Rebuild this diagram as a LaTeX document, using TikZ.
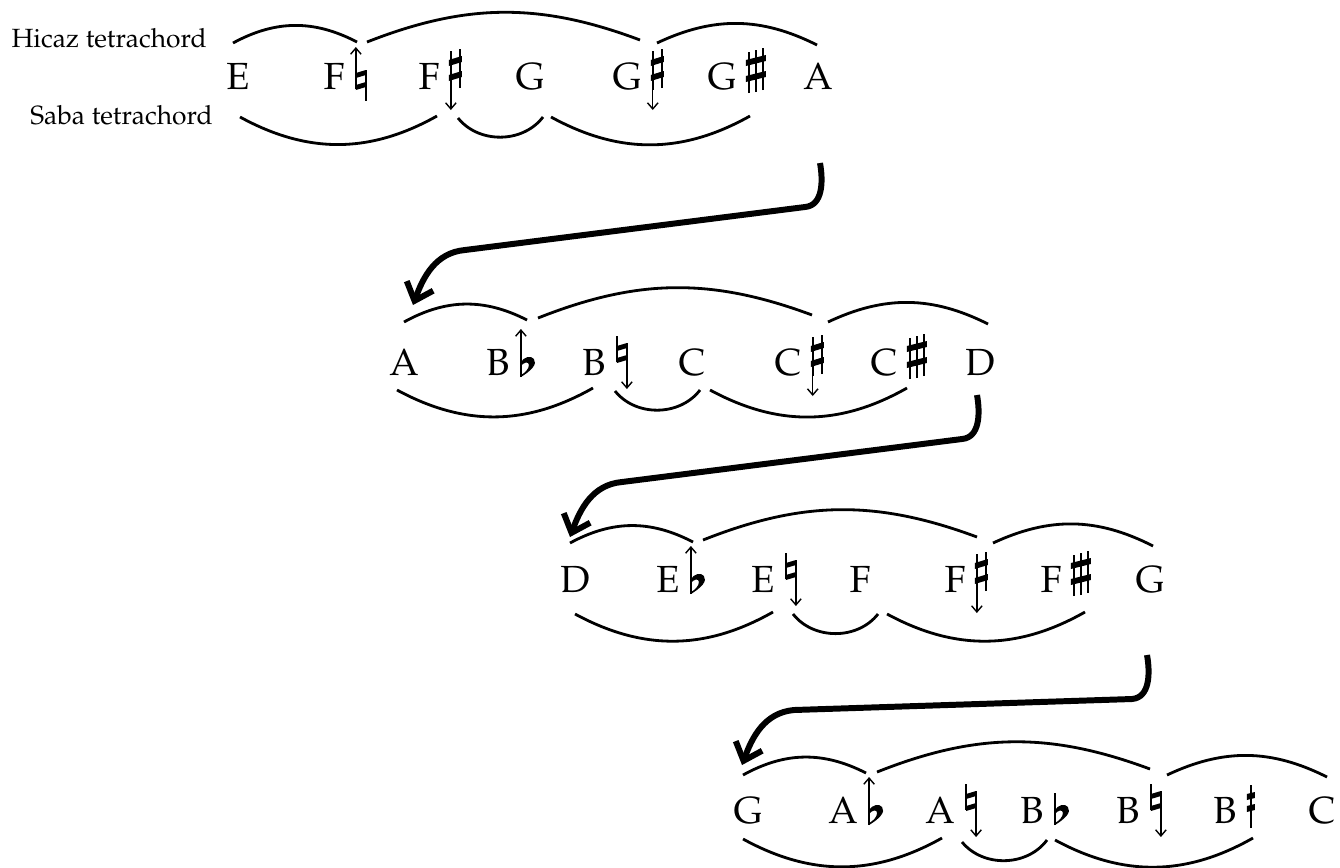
\documentclass[tikz,border=0pt]{standalone}
\usepackage[T1]{fontenc}
\usepackage{mathpazo}
\usetikzlibrary{arrows.meta,calc}

\tikzset{
  note/.style={font=\fontsize{21.5}{26}\selectfont, inner sep=0pt, anchor=base},
  tlabel/.style={font=\fontsize{15}{18}\selectfont, inner sep=0pt, anchor=base east},
  tetra/.style={line width=1.6pt},
  stem/.style={line width=0.9pt},
  accarrow/.style={line width=0.8pt, -{Straight Barb[length=3.5pt,width=6pt]}},
  shiftarrow/.style={line width=3.4pt, -{Straight Barb[length=9pt,width=16pt]}},
  % accidentals, drawn from the left stem on the baseline
  flat/.pic={
    \begin{scope}[x=0.02cm,y=0.02cm]
      \draw[stem] (0,-2) -- (0,30);
      \fill (0,-2) .. controls (10,4) and (17,11) .. (13,16)
            .. controls (10,20) and (3,18) .. (0,13) -- (0,9)
            .. controls (3,13) and (8,14) .. (8,10)
            .. controls (8,6) and (4,2) .. (0,0) -- cycle;
    \end{scope}},
  natural/.pic={
    \begin{scope}[x=0.02cm,y=0.02cm]
      \draw[stem] (0,0) -- (0,26) (10,19) -- (10,-12);
      \fill (0,-1) -- (10,2) -- (10,7) -- (0,4) -- cycle
            (0,11) -- (10,14) -- (10,19) -- (0,16) -- cycle;
    \end{scope}},
  sharp/.pic={
    \begin{scope}[x=0.02cm,y=0.02cm]
      \draw[stem] (0,-1) -- (0,38) (9,1) -- (9,40);
      \fill (-2,8) -- (11,12) -- (11,18) -- (-2,14) -- cycle
            (-2,23) -- (11,27) -- (11,33) -- (-2,29) -- cycle;
    \end{scope}},
  wide sharp/.pic={
    \begin{scope}[x=0.02cm,y=0.02cm]
      \draw[stem] (0,-4) -- (0,37) (7,-3) -- (7,39) (14,-1) -- (14,41);
      \fill (-3,7) -- (17,12) -- (17,18) -- (-3,13) -- cycle
            (-3,23) -- (17,28) -- (17,34) -- (-3,29) -- cycle;
    \end{scope}},
  koma sharp/.pic={
    \begin{scope}[x=0.02cm,y=0.02cm]
      \draw[stem] (0,-5) -- (0,38);
      \fill (-4,11) -- (4,13) -- (4,19) -- (-4,17) -- cycle
            (-4,23) -- (4,25) -- (4,31) -- (-4,29) -- cycle;
    \end{scope}},
  flat up/.pic={\pic {flat}; \draw[accarrow] (0,0.6) -- (0,0.92);},
  natural up/.pic={\pic {natural}; \draw[accarrow] (0,0.52) -- (0,0.84);},
  natural down/.pic={\pic at (0,0.26) {natural}; \draw[accarrow] (0.2,0.02) -- (0.2,-0.28);},
  sharp down/.pic={\pic {sharp}; \draw[accarrow] (0,-0.02) -- (0,-0.42);}
}

\begin{document}
\begin{tikzpicture}

\useasboundingbox (0,0) rectangle (26.8,-17.34);

% Row 1: E
\node[note] (n11) at (4.76,-1.78) {E};
\node[note] (n12) at (6.68,-1.78) {F};
\node[note] (n13) at (8.58,-1.78) {F};
\node[note] (n14) at (10.60,-1.78) {G};
\node[note] (n15) at (12.54,-1.78) {G};
\node[note] (n16) at (14.44,-1.78) {G};
\node[note] (n17) at (16.36,-1.78) {A};
\pic at ($(n12.base east)+(0.22,0)$) {natural up};
\pic at ($(n13.base east)+(0.22,0)$) {sharp down};
\pic at ($(n15.base east)+(0.22,0)$) {sharp down};
\pic at ($(n16.base east)+(0.24,0)$) {wide sharp};

% Tetrachord names
\node[tlabel] (hicaz) at ($(n11.base)+(-0.62,0.84)$) {Hicaz tetrachord};
\node[tlabel] (saba) at ($(n11.base)+(-0.50,-0.70)$) {Saba tetrachord};

% Row 2: A
\node[note] (n21) at (8.08,-7.50) {A};
\node[note] (n22) at (9.96,-7.50) {B};
\node[note] (n23) at (11.88,-7.50) {B};
\node[note] (n24) at (13.84,-7.50) {C};
\node[note] (n25) at (15.76,-7.50) {C};
\node[note] (n26) at (17.68,-7.50) {C};
\node[note] (n27) at (19.60,-7.50) {D};
\pic at ($(n22.base east)+(0.22,0)$) {flat up};
\pic at ($(n23.base east)+(0.22,0)$) {natural down};
\pic at ($(n25.base east)+(0.22,0)$) {sharp down};
\pic at ($(n26.base east)+(0.24,0)$) {wide sharp};

% Row 3: D
\node[note] (n31) at (11.50,-11.84) {D};
\node[note] (n32) at (13.36,-11.84) {E};
\node[note] (n33) at (15.26,-11.84) {E};
\node[note] (n34) at (17.20,-11.84) {F};
\node[note] (n35) at (19.10,-11.84) {F};
\node[note] (n36) at (21.02,-11.84) {F};
\node[note] (n37) at (23.00,-11.84) {G};
\pic at ($(n32.base east)+(0.22,0)$) {flat up};
\pic at ($(n33.base east)+(0.22,0)$) {natural down};
\pic at ($(n35.base east)+(0.22,0)$) {sharp down};
\pic at ($(n36.base east)+(0.24,0)$) {wide sharp};

% Row 4: G
\node[note] (n41) at (14.96,-16.46) {G};
\node[note] (n42) at (16.86,-16.46) {A};
\node[note] (n43) at (18.80,-16.46) {A};
\node[note] (n44) at (20.64,-16.46) {B};
\node[note] (n45) at (22.56,-16.46) {B};
\node[note] (n46) at (24.50,-16.46) {B};
\node[note] (n47) at (26.44,-16.46) {C};
\pic at ($(n42.base east)+(0.22,0)$) {flat up};
\pic at ($(n43.base east)+(0.22,0)$) {natural down};
\pic at ($(n44.base east)+(0.22,0)$) {flat};
\pic at ($(n45.base east)+(0.22,0)$) {natural down};
\pic at ($(n46.base east)+(0.28,0)$) {koma sharp};

% Tetrachord arcs: Hicaz above, Saba below
\begin{scope}[shift={(n11.base)}]
  \draw[tetra] (-0.10,0.92) to[bend left=28] (2.38,0.94);
  \draw[tetra] (2.58,0.94) to[bend left=21] (8.04,0.98);
  \draw[tetra] (8.38,0.92) to[bend left=26] (11.58,0.88);
  \draw[tetra] (0.04,-0.56) to[bend right=29] (3.98,-0.54);
  \draw[tetra] (4.40,-0.58) to[bend right=52] (6.10,-0.56);
  \draw[tetra] (6.26,-0.56) to[bend right=29] (10.24,-0.54);
\end{scope}
\begin{scope}[shift={(n21.base)}]
  \draw[tetra] (0,1.06) to[bend left=28] (2.46,1.10);
  \draw[tetra] (2.68,1.14) to[bend left=21] (8.16,1.20);
  \draw[tetra] (8.48,1.06) to[bend left=26] (11.68,1.02);
  \draw[tetra] (-0.14,-0.30) to[bend right=29] (3.78,-0.26);
  \draw[tetra] (4.22,-0.32) to[bend right=52] (5.92,-0.30);
  \draw[tetra] (6.12,-0.30) to[bend right=29] (10.06,-0.26);
\end{scope}
\begin{scope}[shift={(n31.base)}]
  \draw[tetra] (-0.10,0.98) to[bend left=28] (2.36,1.00);
  \draw[tetra] (2.56,1.04) to[bend left=21] (8.04,1.10);
  \draw[tetra] (8.36,0.98) to[bend left=26] (11.56,0.92);
  \draw[tetra] (0,-0.44) to[bend right=29] (3.96,-0.40);
  \draw[tetra] (4.36,-0.44) to[bend right=52] (6.06,-0.44);
  \draw[tetra] (6.24,-0.44) to[bend right=29] (10.20,-0.40);
\end{scope}
\begin{scope}[shift={(n41.base)}]
  \draw[tetra] (-0.10,0.96) to[bend left=28] (2.36,1.00);
  \draw[tetra] (2.58,1.02) to[bend left=21] (8.04,1.08);
  \draw[tetra] (8.38,0.96) to[bend left=26] (11.58,0.92);
  \draw[tetra] (-0.10,-0.32) to[bend right=29] (3.88,-0.30);
  \draw[tetra] (4.28,-0.38) to[bend right=52] (5.98,-0.34);
  \draw[tetra] (6.14,-0.34) to[bend right=29] (10.10,-0.30);
\end{scope}

% Shift arrows: last note of a row to first note of the next
\coordinate (from1) at ($(n17.base)+(0.04,-1.48)$);
\coordinate (to1) at ($(n21.base)+(0.18,1.40)$);
\coordinate (from2) at ($(n27.base)+(-0.06,-0.40)$);
\coordinate (to2) at ($(n31.base)+(-0.10,1.10)$);
\coordinate (from3) at ($(n37.base)+(-0.06,-1.26)$);
\coordinate (to3) at ($(n41.base)+(-0.12,1.16)$);

\draw[shiftarrow] (from1) to[out=-80,in=5] ++(-0.30,-0.88)
  -- ($(to1)+(1.04,1.10)$) to[out=185,in=70] (to1);
\draw[shiftarrow] (from2) to[out=-80,in=5] ++(-0.30,-0.88)
  -- ($(to2)+(1.04,1.10)$) to[out=185,in=70] (to2);
\draw[shiftarrow] (from3) to[out=-80,in=5] ++(-0.30,-0.88)
  -- ($(to3)+(1.04,1.10)$) to[out=185,in=70] (to3);

\end{tikzpicture}
\end{document}
